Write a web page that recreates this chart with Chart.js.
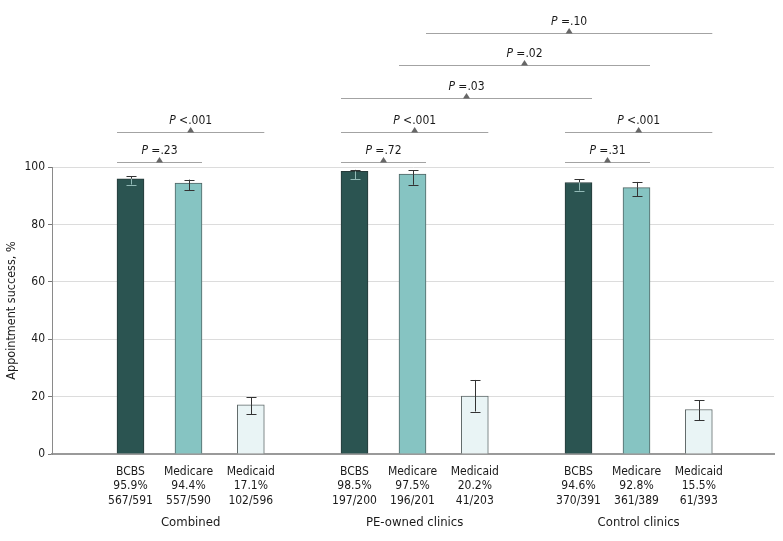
<!DOCTYPE html>
<html>
<head>
<meta charset="utf-8">
<script src="https://cdn.jsdelivr.net/npm/chart.js@4/dist/chart.umd.min.js"></script>
<style>
  html, body { margin: 0; padding: 0; background: #fff; }
  #wrap { width: 783px; height: 541px; position: relative; }
</style>
</head>
<body>
<div id="wrap"><canvas id="c" width="783" height="541"></canvas></div>
<script>
// ---- Data ----
const groups = ['Combined', 'PE-owned clinics', 'Control clinics'];
const payers = ['BCBS', 'Medicare', 'Medicaid'];
const bcbsPct = [95.9, 98.5, 94.6];
const medicarePct = [94.4, 97.5, 92.8];
const medicaidPct = [17.1, 20.2, 15.5];
const bcbsCiLow = [93.9, 95.8, 91.8];
const bcbsCiHigh = [96.8, 99.0, 95.7];
const medicareCiLow = [91.9, 93.8, 89.8];
const medicareCiHigh = [95.6, 98.9, 94.8];
const medicaidCiLow = [13.9, 14.8, 11.8];
const medicaidCiHigh = [19.8, 25.8, 18.7];
const bcbsCounts = ['567/591', '197/200', '370/391'];
const medicareCounts = ['557/590', '196/201', '361/389'];
const medicaidCounts = ['102/596', '41/203', '61/393'];
const yTickValues = [0, 20, 40, 60, 80, 100];
const yAxisTitle = 'Appointment success, %';
// comparisons: [group, payer] pairs, bracket tier, P value text
const comparisons = [
  { from: [0, 0], to: [0, 1], tier: 0, p: '=.23' },
  { from: [0, 0], to: [0, 2], tier: 1, p: '<.001' },
  { from: [1, 0], to: [1, 1], tier: 0, p: '=.72' },
  { from: [1, 0], to: [1, 2], tier: 1, p: '<.001' },
  { from: [2, 0], to: [2, 1], tier: 0, p: '=.31' },
  { from: [2, 0], to: [2, 2], tier: 1, p: '<.001' },
  { from: [1, 0], to: [2, 0], tier: 2, p: '=.03' },
  { from: [1, 1], to: [2, 1], tier: 3, p: '=.02' },
  { from: [1, 1], fromEdge: 'right', to: [2, 2], tier: 4, p: '=.10' }
];

// ---- Layout (not data) ----
const GROUP_START = 78.5, GROUP_STEP = 224, BAR_OFFSETS = [0, 58, 120.3];
const BAR_W = 27;
const TIER_VALUES = [101.6, 112.1, 124.2, 135.7, 146.8];
const FONT = "'DejaVu Sans Condensed', 'DejaVu Sans', sans-serif";
const TXT = '#1a1a1a';

const pctBy = [bcbsPct, medicarePct, medicaidPct];
const lowBy = [bcbsCiLow, medicareCiLow, medicaidCiLow];
const highBy = [bcbsCiHigh, medicareCiHigh, medicaidCiHigh];
const countsBy = [bcbsCounts, medicareCounts, medicaidCounts];
const fills = ['#2b5451', '#86c4c2', '#e9f4f5'];
const borders = ['#263a39', '#4f6564', '#5e6868'];

function barX(g, p) { return GROUP_START + g * GROUP_STEP + BAR_OFFSETS[p]; }

const tickInfo = [];
for (let g = 0; g < groups.length; g++) {
  for (let p = 0; p < payers.length; p++) {
    tickInfo.push({ value: barX(g, p), lines: [payers[p], pctBy[p][g].toFixed(1) + '%', countsBy[p][g]] });
  }
}

const datasets = payers.map((name, p) => ({
  label: name,
  data: groups.map((_, g) => ({ x: barX(g, p), y: pctBy[p][g] })),
  backgroundColor: fills[p],
  borderColor: borders[p],
  borderWidth: 1,
  barThickness: BAR_W,
  grouped: false
}));

const annotPlugin = {
  id: 'annot',
  afterDatasetsDraw(chart) {
    const ctx = chart.ctx, xs = chart.scales.x, ys = chart.scales.y;
    ctx.save();
    // error bars
    for (let p = 0; p < payers.length; p++) {
      for (let g = 0; g < groups.length; g++) {
        const cx = Math.round(xs.getPixelForValue(barX(g, p))) + 0.5;
        const top = ys.getPixelForValue(pctBy[p][g]);
        const hi = ys.getPixelForValue(highBy[p][g]);
        const lo = ys.getPixelForValue(lowBy[p][g]);
        const inside = p === 0 ? '#93bab7' : '#333';
        ctx.lineWidth = 1;
        // upper part (above bar top)
        ctx.strokeStyle = '#333';
        ctx.beginPath(); ctx.moveTo(cx, hi); ctx.lineTo(cx, Math.min(top, lo)); ctx.stroke();
        ctx.beginPath(); ctx.moveTo(cx - 5, Math.round(hi) + 0.5); ctx.lineTo(cx + 5, Math.round(hi) + 0.5); ctx.stroke();
        // lower part (inside bar)
        ctx.strokeStyle = inside;
        ctx.beginPath(); ctx.moveTo(cx, top); ctx.lineTo(cx, lo); ctx.stroke();
        ctx.beginPath(); ctx.moveTo(cx - 5, Math.round(lo) + 0.5); ctx.lineTo(cx + 5, Math.round(lo) + 0.5); ctx.stroke();
      }
    }
    ctx.restore();
  },
  afterDraw(chart) {
    const ctx = chart.ctx, xs = chart.scales.x, ys = chart.scales.y;
    ctx.save();
    // brackets
    comparisons.forEach(c => {
      const x1 = xs.getPixelForValue(barX(c.from[0], c.from[1])) + (c.fromEdge === 'right' ? BAR_W / 2 : -BAR_W / 2);
      const x2 = xs.getPixelForValue(barX(c.to[0], c.to[1])) + BAR_W / 2;
      const y = Math.round(ys.getPixelForValue(TIER_VALUES[c.tier])) + 0.5;
      ctx.strokeStyle = '#a3a3a3';
      ctx.lineWidth = 1.2;
      ctx.beginPath(); ctx.moveTo(x1, y); ctx.lineTo(x2, y); ctx.stroke();
      const mid = (x1 + x2) / 2;
      ctx.fillStyle = '#666';
      ctx.beginPath(); ctx.moveTo(mid - 3.5, y); ctx.lineTo(mid + 3.5, y); ctx.lineTo(mid, y - 5.5); ctx.closePath(); ctx.fill();
      ctx.fillStyle = TXT;
      ctx.textBaseline = 'alphabetic';
      ctx.textAlign = 'left';
      ctx.font = 'italic 12px ' + FONT;
      const wP = ctx.measureText('P').width;
      ctx.font = '12px ' + FONT;
      const rest = ' ' + c.p;
      const wR = ctx.measureText(rest).width;
      const sx = mid - (wP + wR) / 2;
      ctx.font = 'italic 12px ' + FONT;
      ctx.fillText('P', sx, y - 9);
      ctx.font = '12px ' + FONT;
      ctx.fillText(rest, sx + wP, y - 9);
    });
    // group labels
    ctx.font = '13px ' + FONT;
    ctx.fillStyle = TXT;
    ctx.textAlign = 'center';
    ctx.textBaseline = 'middle';
    groups.forEach((name, g) => {
      const cx = (xs.getPixelForValue(barX(g, 0)) + xs.getPixelForValue(barX(g, 2))) / 2;
      ctx.fillText(name, cx, chart.chartArea.bottom + 69);
    });
    ctx.restore();
  }
};

new Chart(document.getElementById('c'), {
  type: 'bar',
  data: { datasets },
  options: {
    responsive: false,
    animation: false,
    events: [],
    layout: { padding: { top: 167, right: 9, left: 0, bottom: 0 } },
    plugins: { legend: { display: false }, tooltip: { enabled: false } },
    scales: {
      x: {
        type: 'linear',
        min: 0,
        max: 722,
        offset: false,
        grid: { display: false, drawTicks: false, offset: false },
        border: { display: true, color: '#9a9a9a', width: 2 },
        afterBuildTicks(scale) { scale.ticks = tickInfo.map(t => ({ value: t.value })); },
        afterFit(scale) { scale.height = 87; },
        ticks: {
          autoSkip: false,
          maxRotation: 0,
          padding: 11,
          color: TXT,
          font: { family: FONT, size: 12, lineHeight: 1.18 },
          callback(value) {
            const t = tickInfo.find(ti => Math.abs(ti.value - value) < 0.01);
            return t ? t.lines : '';
          }
        }
      },
      y: {
        min: 0,
        max: 100,
        afterBuildTicks(scale) { scale.ticks = yTickValues.map(v => ({ value: v })); },
        afterFit(scale) { scale.width = 52; },
        grid: { color: '#dcdcdc', lineWidth: 1, tickLength: 4, tickColor: '#777', drawTicks: true },
        border: { display: true, color: '#8a8a8a', width: 1 },
        ticks: { padding: 3, color: TXT, font: { family: FONT, size: 12 } },
        title: {
          display: true,
          text: yAxisTitle,
          color: TXT,
          font: { family: FONT, size: 12.5 },
          padding: { top: 4, bottom: 0 }
        }
      }
    }
  },
  plugins: [annotPlugin]
});
</script>
</body>
</html>
